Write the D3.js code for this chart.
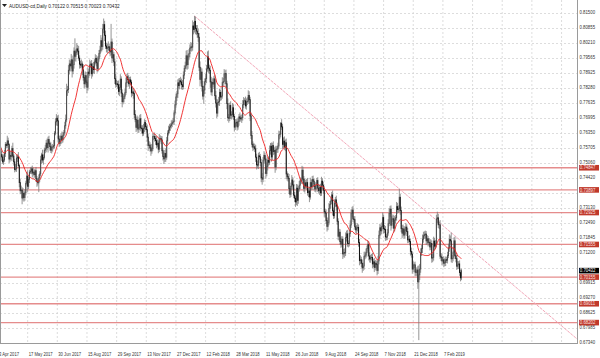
<!DOCTYPE html>
<html><head><meta charset="utf-8">
<script src="https://cdn.jsdelivr.net/npm/d3@7"></script>
<style>body{margin:0;background:#fff}svg{display:block}text{font-family:"Liberation Sans",Arial,sans-serif}</style>
</head><body>
<svg id="c" width="600" height="358"></svg>
<script>
const symbolTitle = "AUDUSD-cd,Daily";
const firstOpen = 0.7640;
// daily closes, 3 Apr 2017 .. 8 Mar 2019 (one line per month)
const closes = [
0.7596,0.7577,0.7566,0.7541,0.7531,0.7510,0.7518,0.7546,0.7585,0.7580,0.7600,0.7584,0.7522,0.7538,0.7533,0.7567,0.7535,0.7510,0.7477,0.7480,
0.7526,0.7531,0.7494,0.7421,0.7386,0.7389,0.7355,0.7375,0.7357,0.7377,0.7418,0.7449,0.7405,0.7435,0.7466,0.7470,0.7480,0.7462,0.7466,0.7455,0.7472,0.7438,0.7425,
0.7420,0.7441,0.7458,0.7518,0.7540,0.7518,0.7529,0.7560,0.7566,0.7590,0.7571,0.7606,0.7589,0.7575,0.7560,0.7573,0.7574,0.7580,0.7633,0.7682,0.7697,0.7686,
0.7608,0.7590,0.7605,0.7620,0.7604,0.7622,0.7635,0.7665,0.7690,0.7815,0.7820,0.7903,0.7930,0.7922,0.7948,0.7900,0.7927,0.7985,0.7963,0.7980,0.7995,
0.7985,0.7955,0.7929,0.7925,0.7930,0.7905,0.7872,0.7845,0.7880,0.7852,0.7830,0.7895,0.7888,0.7926,0.7930,0.7888,0.7918,0.7906,0.7939,0.7954,0.7935,0.7910,0.7952,
0.7975,0.7989,0.8030,0.8005,0.8080,0.8099,0.8053,0.8007,0.7997,0.8000,0.8004,0.7988,0.7982,0.8024,0.7956,0.7970,0.7939,0.7867,0.7843,0.7845,0.7841,
0.7812,0.7830,0.7865,0.7805,0.7768,0.7781,0.7792,0.7807,0.7849,0.7875,0.7863,0.7845,0.7862,0.7852,0.7806,0.7810,0.7803,0.7713,0.7692,0.7658,0.7689,0.7651,
0.7658,0.7695,0.7655,0.7652,0.7633,0.7654,0.7679,0.7661,0.7648,0.7616,0.7580,0.7582,0.7570,0.7557,0.7566,0.7619,0.7619,0.7610,0.7601,0.7583,0.7590,0.7564,
0.7610,0.7610,0.7604,0.7558,0.7533,0.7523,0.7546,0.7530,0.7600,0.7633,0.7646,0.7659,0.7665,0.7673,0.7679,0.7683,0.7720,0.7755,0.7788,0.7802,
0.7849,0.7837,0.7858,0.7853,0.7841,0.7833,0.7882,0.7911,0.7922,0.7965,0.7927,0.7960,0.7974,0.7998,0.8003,0.8002,0.8093,0.8078,0.8113,0.8082,0.8071,0.8061,
0.8045,0.7916,0.7864,0.7895,0.7834,0.7792,0.7818,0.7854,0.7867,0.7909,0.7960,0.7912,0.7903,0.7853,0.7810,0.7851,0.7844,0.7866,0.7794,0.7762,
0.7719,0.7764,0.7768,0.7808,0.7788,0.7792,0.7850,0.7855,0.7888,0.7889,0.7845,0.7760,0.7699,0.7697,0.7752,0.7710,0.7713,0.7742,0.7705,0.7659,0.7677,0.7680,
0.7660,0.7683,0.7703,0.7697,0.7694,0.7700,0.7755,0.7772,0.7772,0.7750,0.7768,0.7770,0.7795,0.7777,0.7707,0.7623,0.7585,0.7573,0.7575,0.7566,0.7530,
0.7497,0.7496,0.7536,0.7532,0.7507,0.7442,0.7436,0.7517,0.7538,0.7522,0.7460,0.7489,0.7517,0.7508,0.7558,0.7577,0.7531,0.7580,0.7554,0.7559,0.7488,0.7564,0.7565,
0.7578,0.7626,0.7629,0.7676,0.7660,0.7585,0.7599,0.7573,0.7592,0.7458,0.7447,0.7439,0.7395,0.7371,0.7405,0.7432,0.7411,0.7367,0.7354,0.7338,0.7397,
0.7345,0.7394,0.7410,0.7429,0.7431,0.7474,0.7436,0.7396,0.7420,0.7406,0.7421,0.7378,0.7385,0.7359,0.7421,0.7404,0.7434,0.7427,0.7405,0.7394,0.7410,0.7430,
0.7397,0.7386,0.7400,0.7377,0.7427,0.7410,0.7388,0.7296,0.7290,0.7258,0.7233,0.7250,0.7310,0.7327,0.7342,0.7368,0.7300,0.7279,0.7333,0.7347,0.7320,0.7255,0.7191,
0.7208,0.7168,0.7157,0.7178,0.7115,0.7120,0.7119,0.7185,0.7201,0.7160,0.7159,0.7203,0.7239,0.7290,0.7303,0.7265,0.7262,0.7231,0.7218,0.7226,
0.7229,0.7164,0.7086,0.7090,0.7075,0.7055,0.7063,0.7104,0.7110,0.7120,0.7138,0.7155,0.7106,0.7093,0.7099,0.7100,0.7072,0.7081,0.7057,0.7075,0.7070,0.7044,0.7085,
0.7195,0.7227,0.7214,0.7232,0.7271,0.7223,0.7220,0.7188,0.7187,0.7205,0.7245,0.7289,0.7307,0.7238,0.7264,0.7266,0.7225,0.7260,0.7270,0.7318,0.7305,0.7309,
0.7358,0.7301,0.7224,0.7204,0.7222,0.7196,0.7216,0.7230,0.7211,0.7175,0.7178,0.7168,0.7126,0.7114,0.7050,0.7068,0.7068,0.7037,0.7036,0.7046,
0.6995,0.7025,0.7050,0.7120,0.7138,0.7178,0.7193,0.7198,0.7200,0.7171,0.7180,0.7163,0.7165,0.7145,0.7160,0.7097,0.7100,0.7170,0.7148,0.7158,0.7265,0.7270,
0.7240,0.7240,0.7105,0.7100,0.7085,0.7090,0.7075,0.7078,0.7090,0.7088,0.7108,0.7140,0.7177,0.7171,0.7094,0.7096,0.7123,0.7171,0.7107,0.7095,
0.7062,0.7068,0.7072,0.7035,0.70122,0.70432
];
// upper wick above body, in pips
const wickUp = [
18,12,20,9,15,11,24,16,10,8,22,14,6,19,17,12,25,9,13,21,
14,10,21,8,15,19,12,23,9,16,11,18,25,13,10,17,9,14,20,12,8,16,11,
10,15,12,18,9,22,13,11,17,14,20,12,16,8,19,11,13,24,9,15,18,12,
26,14,18,11,20,15,12,17,23,30,16,22,19,14,25,18,21,16,55,13,24,
17,22,12,15,19,11,24,13,18,16,10,21,14,23,12,17,15,20,11,18,14,26,13,
15,19,24,13,22,26,16,20,14,18,23,12,17,78,15,19,11,14,20,16,12,
18,14,21,12,16,20,11,15,23,13,17,19,12,14,10,22,16,13,19,11,20,15,
13,17,20,12,15,19,14,11,16,22,13,18,12,15,21,14,10,17,13,19,16,12,
20,14,11,16,13,18,15,22,17,12,19,14,10,15,12,16,11,18,14,13,
15,19,12,17,14,20,16,13,18,22,25,14,19,16,21,18,24,17,23,20,15,26,
22,18,25,20,16,23,19,14,21,17,24,28,15,19,22,16,20,13,18,21,
18,14,21,16,12,19,23,15,20,14,17,13,22,16,12,18,14,20,15,11,17,13,
14,17,12,19,15,13,20,16,11,18,14,17,22,18,12,15,19,13,16,12,17,
15,19,13,17,12,16,20,14,18,11,15,19,13,17,22,14,16,12,18,13,17,15,12,
14,18,13,4,17,12,16,20,14,18,11,15,19,13,16,21,12,17,14,11,18,
16,12,18,14,11,19,15,13,17,12,16,20,14,18,21,13,15,17,12,16,14,11,
14,17,12,16,19,13,15,18,12,16,14,20,23,15,17,13,19,14,16,12,18,15,13,
15,13,18,14,12,16,19,22,14,17,13,15,20,16,14,18,12,15,17,13,
17,12,15,19,13,16,14,20,15,18,13,17,14,16,12,15,19,13,17,14,12,16,22,
20,17,14,18,22,13,16,15,12,17,19,21,14,16,13,18,15,17,12,20,16,14,
36,14,17,15,19,13,16,18,12,15,14,17,13,16,12,15,11,14,13,12,
18,40,22,19,16,20,17,14,15,13,16,12,18,14,17,13,15,19,14,16,18,26,
17,14,20,13,16,12,15,18,14,13,16,19,22,17,36,14,23,15,18,13,
14,17,12,15,13,8.3
];
// lower wick below body, in pips
const wickDown = [
11,20,14,22,18,9,13,8,15,12,10,23,17,11,14,20,9,16,12,8,
13,17,9,20,15,12,27,11,18,14,10,9,24,12,16,8,13,19,11,15,10,14,22,
12,40,18,10,16,12,20,9,13,15,11,21,8,17,12,14,19,10,13,9,16,22,
20,16,12,19,14,11,17,9,13,10,22,15,18,24,12,28,14,17,20,23,11,
15,11,19,13,10,22,14,20,16,12,25,14,18,10,13,21,12,16,19,11,15,17,12,
12,16,10,21,14,18,25,13,17,20,11,15,19,14,22,13,18,23,15,12,17,
14,20,12,17,24,11,16,13,10,18,15,12,21,14,19,13,22,15,12,20,14,17,
16,12,14,20,13,11,17,15,12,19,23,14,16,21,12,10,15,13,18,14,11,17,
12,16,18,13,17,22,14,20,11,15,10,13,16,12,14,9,15,11,13,17,
18,13,16,11,20,14,12,17,15,13,22,18,14,16,12,19,15,21,13,24,17,19,
20,16,30,18,22,15,33,17,14,19,12,20,16,25,14,18,13,21,17,19,
21,15,12,18,16,14,11,17,13,20,15,24,14,19,12,16,18,13,15,19,12,14,
16,12,18,14,11,17,13,15,19,12,16,14,10,18,22,15,13,17,12,14,20,
20,14,17,12,16,19,24,13,15,18,22,12,16,14,11,17,20,13,15,12,25,14,16,
16,12,19,14,13,20,15,12,17,22,18,14,23,16,12,15,19,13,17,21,14,
24,15,12,17,13,16,20,14,18,12,15,13,19,22,11,16,14,12,17,13,15,18,
16,12,18,14,13,17,15,21,19,14,22,16,12,15,18,13,20,14,12,16,19,15,17,
18,14,16,12,22,15,20,13,17,14,16,12,15,13,18,14,16,12,15,17,
14,18,20,15,17,21,13,16,12,14,17,13,19,15,16,12,18,14,20,13,17,21,15,
15,13,19,14,12,20,16,17,14,13,12,11,15,23,14,12,18,13,15,12,17,14,
15,18,16,22,14,17,13,15,19,14,12,16,18,15,20,13,14,18,15,17,
30,250,22,16,14,19,15,13,17,18,14,16,12,15,13,20,17,14,16,12,15,18,
14,18,12,16,19,14,17,13,15,12,14,11,16,13,15,18,13,20,14,16,
16,12,18,14,15,9.9
];
const dateLabels = ["3 Apr 2017","17 May 2017","30 Jun 2017","15 Aug 2017","29 Sep 2017","13 Nov 2017","27 Dec 2017","12 Feb 2018","28 Mar 2018","11 May 2018","26 Jun 2018","9 Aug 2018","24 Sep 2018","7 Nov 2018","21 Dec 2018","7 Feb 2019"];
const barsPerLabel = 32;
const priceTicks = [0.81500,0.80855,0.80210,0.79565,0.78925,0.78280,0.77635,0.76995,0.76350,0.75705,0.75060,0.74420,0.73775,0.73130,0.72490,0.71845,0.71200,0.70555,0.69915,0.69270,0.68625,0.67985,0.67340];
const levels = [0.74847,0.73897,0.72925,0.71555,0.70155,0.69011,0.68202];
const trendAnchorBars = [212, 433]; // highs of 26 Jan 2018 and 3 Dec 2018
const maPeriod = 20;

const svg = d3.select("#c");
const plotR = 577, plotB = 343;
const x = d3.scaleLinear().domain([0, barsPerLabel]).range([-2, 27.66]);
const y = d3.scaleLinear().domain([0.67340, 0.81500]).range([342.7, 12.7]);
const pip = 0.0001;

const bars = closes.map((c, i) => {
  const o = i === 0 ? firstOpen : closes[i - 1];
  return {i, o, c, h: Math.max(o, c) + (wickUp[i] || 0) * pip, l: Math.min(o, c) - (wickDown[i] || 0) * pip};
});
const last = bars[bars.length - 1];

svg.append("defs").append("clipPath").attr("id", "clip")
  .append("rect").attr("x", 0).attr("y", 0).attr("width", plotR).attr("height", plotB);

// grid
const grid = svg.append("g");
grid.selectAll("line.h").data(priceTicks).join("line")
  .attr("x1", 0).attr("x2", plotR).attr("y1", d => Math.round(y(d)) + 0.5).attr("y2", d => Math.round(y(d)) + 0.5)
  .attr("stroke", "#d4d4d4").attr("stroke-width", 0.8).attr("stroke-dasharray", "2,2");
const vIdx = d3.range(0, 25).map(k => k * barsPerLabel).filter(i => x(i) > 0 && x(i) < plotR);
grid.selectAll("line.v").data(vIdx).join("line")
  .attr("x1", d => x(d)).attr("x2", d => x(d)).attr("y1", 0).attr("y2", plotB)
  .attr("stroke", "#d4d4d4").attr("stroke-width", 0.8).attr("stroke-dasharray", "2,2");

const plot = svg.append("g").attr("clip-path", "url(#clip)");

// level lines
plot.selectAll("line.lvl").data(levels).join("line")
  .attr("x1", 0).attr("x2", plotR).attr("y1", d => y(d)).attr("y2", d => y(d))
  .attr("stroke", "#e07878").attr("stroke-opacity", 0.85).attr("stroke-width", 1.3);

// trendline through two highs, extended to the right edge
const [ta, tb] = trendAnchorBars;
const ha = bars[ta].h, hb = bars[tb].h;
const iEnd = x.invert(plotR + 2);
const pEnd = ha + (hb - ha) * (iEnd - ta) / (tb - ta);
plot.append("line")
  .attr("x1", x(ta)).attr("y1", y(ha)).attr("x2", x(iEnd)).attr("y2", y(pEnd))
  .attr("stroke", "#f3a6b8").attr("stroke-width", 1).attr("stroke-dasharray", "3,1");

// candles
const cg = plot.append("g");
cg.selectAll("line.w").data(bars).join("line")
  .attr("x1", d => x(d.i)).attr("x2", d => x(d.i)).attr("y1", d => y(d.h)).attr("y2", d => y(d.l))
  .attr("stroke", "#7a7a7a").attr("stroke-width", 0.8);
cg.selectAll("line.b").data(bars).join("line")
  .attr("x1", d => x(d.i)).attr("x2", d => x(d.i))
  .attr("y1", d => y(Math.max(d.o, d.c)) - 0.4).attr("y2", d => y(Math.min(d.o, d.c)) + 0.4)
  .attr("stroke", d => d.c < d.o ? "#111" : "#4a4a4a").attr("stroke-width", 1);

// moving average
const ma = bars.map((d, i) => {
  const s = closes.slice(Math.max(0, i - maPeriod + 1), i + 1);
  return {i, v: d3.mean(s)};
});
plot.append("path").datum(ma)
  .attr("d", d3.line().x(d => x(d.i)).y(d => y(d.v)))
  .attr("fill", "none").attr("stroke", "#ee2020").attr("stroke-width", 0.9);

// frame
svg.append("line").attr("x1", 0.5).attr("x2", 0.5).attr("y1", 0).attr("y2", plotB).attr("stroke", "#9a9a9a");
svg.append("line").attr("x1", 0).attr("x2", plotR).attr("y1", plotB + 0.5).attr("y2", plotB + 0.5).attr("stroke", "#9a9a9a");
svg.append("line").attr("x1", plotR + 0.5).attr("x2", plotR + 0.5).attr("y1", 0).attr("y2", plotB + 1).attr("stroke", "#9a9a9a");

// price axis labels (those fully covered by a tag are not drawn, as in the reference)
const tagValues = levels.concat([last.c]);
const visibleTicks = priceTicks.filter(t => tagValues.every(v => Math.abs(y(v) - y(t)) > 4));
svg.selectAll("text.p").data(visibleTicks).join("text")
  .attr("transform", d => `translate(${plotR + 2.5},${y(d) + 1.7}) scale(0.9,1)`)
  .attr("font-size", 4.8).attr("fill", "#333").text(d => d.toFixed(5));

// level tags
const tags = svg.append("g");
levels.forEach(v => {
  tags.append("rect").attr("x", plotR + 2).attr("y", y(v) - 2.8).attr("width", 20).attr("height", 5.6).attr("fill", "#c0392b");
  tags.append("text").attr("transform", `translate(${plotR + 2.8},${y(v) + 1.7}) scale(0.9,1)`)
    .attr("font-size", 4.8).attr("fill", "#fbe3e3").text(v.toFixed(5));
});
tags.append("rect").attr("x", plotR + 2).attr("y", y(last.c) - 2.8).attr("width", 20).attr("height", 5.6).attr("fill", "#000");
tags.append("text").attr("transform", `translate(${plotR + 2.8},${y(last.c) + 1.7}) scale(0.9,1)`)
  .attr("font-size", 4.8).attr("fill", "#fff").text(last.c.toFixed(5));

// time axis labels
svg.selectAll("text.t").data(dateLabels).join("text")
  .attr("transform", (d, k) => `translate(${x(k * barsPerLabel) + 1},355.5) scale(0.8,1)`)
  .attr("font-size", 5.2).attr("fill", "#333").text(d => d);

// title
svg.append("path").attr("d", "M2,4 L7,4 L4.5,7 Z").attr("fill", "#222");
svg.append("text").attr("transform", "translate(9,7.5) scale(0.9,1)").attr("font-size", 5.2).attr("fill", "#222")
  .text(symbolTitle + "  " + [last.o, last.h, last.l, last.c].map(v => v.toFixed(5)).join(" "));
</script>
</body></html>
